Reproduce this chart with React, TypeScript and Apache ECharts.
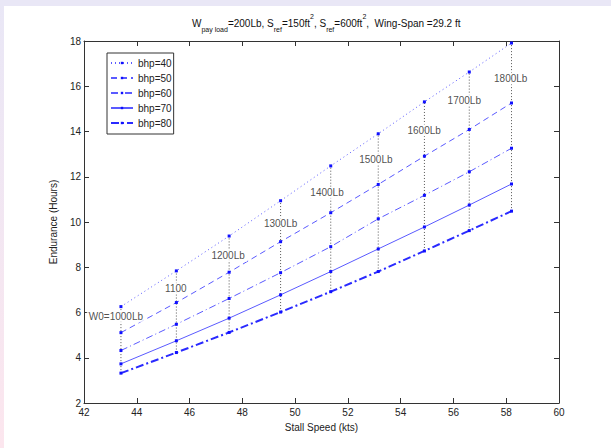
import React, { useEffect, useRef } from 'react';
import * as echarts from 'echarts';

// Stall speed (kts) for each take-off weight
const weightLabels = ['W0=1000Lb', '1100', '1200Lb', '1300Lb', '1400Lb', '1500Lb', '1600Lb', '1700Lb', '1800Lb'];
const stallSpeed = [43.4, 45.5, 47.5, 49.45, 51.35, 53.15, 54.9, 56.6, 58.2];

// Endurance (hours) per engine power
const bhp40 = [6.26, 7.84, 9.38, 10.94, 12.48, 13.9, 15.31, 16.63, 17.91];
const bhp50 = [5.11, 6.44, 7.78, 9.13, 10.41, 11.66, 12.91, 14.09, 15.26];
const bhp60 = [4.32, 5.48, 6.62, 7.76, 8.91, 10.14, 11.18, 12.22, 13.26];
const bhp70 = [3.73, 4.75, 5.75, 6.78, 7.81, 8.81, 9.78, 10.75, 11.68];
const bhp80 = [3.32, 4.23, 5.12, 6.02, 6.92, 7.81, 8.72, 9.62, 10.48];

const seriesNames = ['bhp=40', 'bhp=50', 'bhp=60', 'bhp=70', 'bhp=80'];

// Weight label anchor positions (data coordinates)
const labelX = [43.21, 45.48, 47.46, 49.45, 51.21, 53.06, 54.89, 56.41, 58.17];
const labelY = [5.82, 7.07, 8.5, 9.94, 11.29, 12.77, 14.06, 15.38, 16.34];

const xTicks = { min: 42, max: 60, step: 2 };
const yTicks = { min: 2, max: 18, step: 2 };

export default function App() {
  const ref = useRef<HTMLDivElement>(null);

  useEffect(() => {
    if (!ref.current) return;
    const chart = echarts.init(ref.current, null, { renderer: 'svg' });
    const font = '"Liberation Sans", Arial, Helvetica, sans-serif';
    const axisColor = '#333';
    const lineBlue = '#5a5aff';
    const markBlue = '#1010ff';
    const allY = [bhp40, bhp50, bhp60, bhp70, bhp80];
    const lineStyles: any[] = [
      { type: [1, 3], width: 1 },
      { type: [6, 4], width: 1 },
      { type: [7, 3, 1, 3], width: 1 },
      { type: 'solid', width: 1 },
      { type: [8, 3, 2, 3], width: 2, color: '#2a2aff' },
    ];

    const mainSeries = seriesNames.map((name, k) => ({
      name,
      type: 'line',
      data: stallSpeed.map((x, i) => [x, allY[k][i]]),
      symbol: 'rect',
      symbolSize: 3,
      showSymbol: true,
      itemStyle: { color: markBlue },
      lineStyle: { color: lineBlue, ...lineStyles[k] },
      z: 3,
      silent: true,
    }));

    const verticals = stallSpeed.map((x, i) => ({
      name: 'v' + i,
      type: 'line',
      data: [
        [x, bhp80[i]],
        [x, bhp40[i]],
      ],
      symbol: 'none',
      lineStyle: { color: '#555', width: 1, type: [1, 2] },
      z: 2,
      silent: true,
    }));

    const labelSeries = {
      name: 'labels',
      type: 'scatter',
      data: labelX.map((x, i) => ({ value: [x, labelY[i]], name: weightLabels[i] })),
      symbol: 'circle',
      symbolSize: 1,
      itemStyle: { color: 'rgba(0,0,0,0)' },
      label: {
        show: true,
        position: 'inside',
        formatter: '{b}',
        color: '#222',
        fontSize: 10,
        fontFamily: font,
        backgroundColor: '#fff',
        padding: [1, 2],
      },
      z: 6,
      silent: true,
    };

    const baseAxis = {
      type: 'value',
      splitLine: { show: false },
      axisLine: { show: true, onZero: false, lineStyle: { color: axisColor, width: 1 } },
      axisTick: { show: true, inside: true, length: 5, lineStyle: { color: axisColor } },
    };

    const option: any = {
      animation: false,
      backgroundColor: '#fff',
      graphic: [
        { type: 'rect', shape: { x: 0, y: 0, width: 611, height: 6 }, style: { fill: '#e9e7f6' }, silent: true },
        {
          type: 'rect',
          shape: { x: 0, y: 0, width: 4, height: 448 },
          style: {
            fill: new echarts.graphic.LinearGradient(0, 0, 0, 1, [
              { offset: 0, color: '#e9e7f6' },
              { offset: 1, color: '#fce6ee' },
            ]),
          },
          silent: true,
        },
      ],
      title: {
        text:
          '{a|W}{s|pay load}{a|=200Lb, S}{s|ref}{a|=150ft}{p|2}{a|, S}{s|ref}{a|=600ft}{p|2}{a|,  Wing-Span =29.2 ft}',
        left: 192,
        top: 13,
        padding: 0,
        textStyle: {
          fontFamily: font,
          fontWeight: 'normal',
          rich: {
            a: { fontSize: 10, lineHeight: 20, color: '#111', fontFamily: font, fontWeight: 'normal', verticalAlign: 'middle' },
            s: { fontSize: 7, lineHeight: 10, color: '#111', fontFamily: font, fontWeight: 'normal', verticalAlign: 'bottom' },
            p: { fontSize: 7, lineHeight: 17, color: '#111', fontFamily: font, fontWeight: 'normal', verticalAlign: 'top' },
          },
        },
      },
      legend: {
        data: seriesNames,
        orient: 'vertical',
        left: 107,
        top: 53,
        itemWidth: 22,
        itemHeight: 3,
        itemGap: 3,
        padding: [4, 2, 5, 3],
        borderColor: '#333',
        borderWidth: 1,
        backgroundColor: '#fff',
        textStyle: { fontSize: 10, lineHeight: 12, color: '#222', fontFamily: font },
      },
      grid: { left: 84, right: 52, top: 41, bottom: 45 },
      xAxis: [
        {
          ...baseAxis,
          position: 'bottom',
          min: xTicks.min,
          max: xTicks.max,
          interval: xTicks.step,
          axisLabel: { color: '#222', fontSize: 10, fontFamily: font, margin: 4 },
          name: 'Stall Speed (kts)',
          nameLocation: 'middle',
          nameGap: 19,
          nameTextStyle: { color: '#222', fontSize: 10, fontFamily: font },
        },
        {
          ...baseAxis,
          position: 'top',
          min: xTicks.min,
          max: xTicks.max,
          interval: xTicks.step,
          axisLabel: { show: false },
        },
      ],
      yAxis: [
        {
          ...baseAxis,
          position: 'left',
          min: yTicks.min,
          max: yTicks.max,
          interval: yTicks.step,
          axisLabel: { color: '#222', fontSize: 10, fontFamily: font, margin: 3 },
          name: 'Endurance (Hours)',
          nameLocation: 'middle',
          nameGap: 17,
          nameTextStyle: { color: '#222', fontSize: 10, fontFamily: font },
        },
        {
          ...baseAxis,
          position: 'right',
          min: yTicks.min,
          max: yTicks.max,
          interval: yTicks.step,
          axisLabel: { show: false },
        },
      ],
      series: [...verticals, ...mainSeries, labelSeries],
    };

    chart.setOption(option);
    return () => chart.dispose();
  }, []);

  return (
    <div style={{ position: 'fixed', left: 0, top: 0, width: 611, height: 448, background: '#fff' }}>
      <div ref={ref} style={{ width: 611, height: 448 }} />
    </div>
  );
}
